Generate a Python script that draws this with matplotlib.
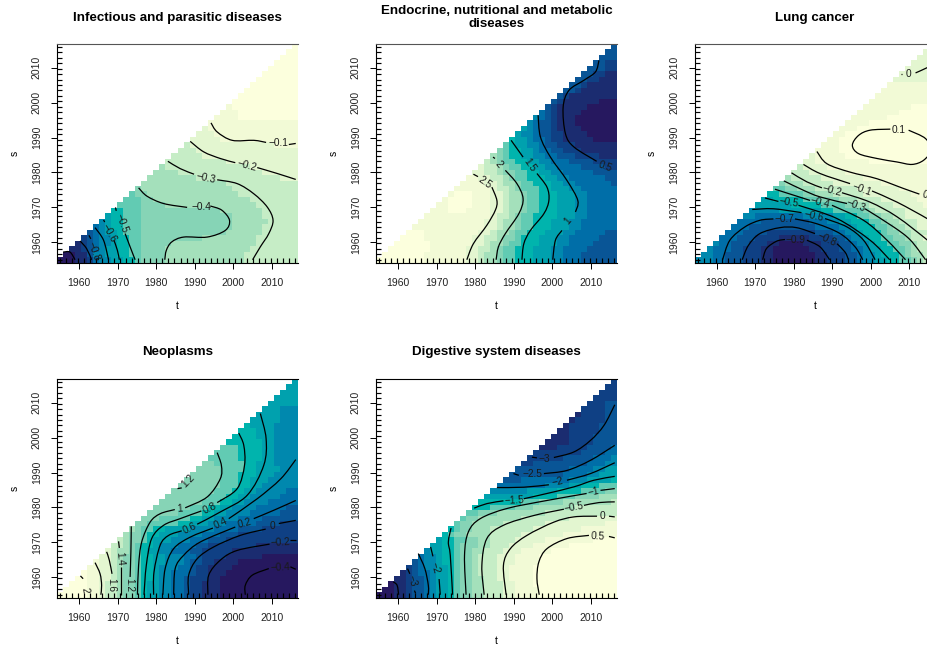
"""Five triangular (s <= t) smooth-effect maps with labelled level curves."""
import matplotlib
matplotlib.use("Agg")
import matplotlib.pyplot as plt
import numpy as np
from matplotlib.colors import ListedColormap
from matplotlib.patches import PathPatch
from matplotlib.path import Path

plt.rcParams["font.family"] = ["Liberation Sans", "DejaVu Sans"]

W, H = 927, 649
T_GRID = np.linspace(1955, 2016, 40)
YEARS = [1960, 1970, 1980, 1990, 2000, 2010]
COLORS = ["#26185f", "#1b2c70", "#0f4084", "#095596", "#006ea8", "#0088ae", "#00a1ae",
          "#00b4ad", "#62cbb3", "#86d4b6", "#a4e0bb", "#c6edc6", "#e3f6d0", "#f2fad6",
          "#fcffdd"]

TITLES = ["Infectious and parasitic diseases",
          "Endocrine, nutritional and metabolic\ndiseases",
          "Lung cancer", "Neoplasms", "Digestive system diseases"]

# colour band rows, bottom to top, as band:first column
INF_ROWS = [
    "0:0 1:3 2:5 4:6 5:7 6:9 7:11 8:13 9:14 a:18 b:31",
    "0:1 1:3 3:5 5:6 6:8 7:10 8:12 9:14 a:18 b:31",
    "1:2 2:4 3:5 4:6 5:7 6:8 7:10 8:12 9:14 a:18 b:32",
    "1:3 2:4 3:5 4:6 5:7 6:9 7:10 8:12 9:14 a:19 b:33",
    "2:4 3:5 4:6 5:7 6:9 7:10 8:12 9:14 a:24 b:33",
    "3:5 4:6 5:7 6:8 7:10 8:11 9:14 a:28 b:34",
    "4:6 5:7 6:8 7:9 8:11 9:14 a:29 b:34",
    "5:7 6:8 7:9 8:11 9:14 a:29 b:35",
    "6:8 7:9 8:11 9:14 a:29 b:34",
    "7:9 8:11 9:14 a:27 b:34",
    "8:10 9:14 a:18 b:33",
    "8:11 9:14 a:16 b:32",
    "8:12 9:13 a:15 b:30",
    "9:13 a:14 b:29",
    "a:14 b:28",
    "a:15 b:23 c:37",
    "a:16 b:20 c:34",
    "a:17 b:18 c:32",
    "b:18 c:28",
    "b:19 c:24",
    "b:20 c:23",
    "b:21 c:22 d:36",
    "c:22 d:27",
    "c:23 d:26",
    "c:24 d:25",
    "d:25",
    "d:26 e:30",
    "d:27 e:30",
    "d:28 e:29",
    "e:29", "e:30", "e:31", "e:32", "e:33", "e:34", "e:35", "e:36", "e:37", "e:38", "e:39",
]
END_ROWS = [
    "e:0 d:8 c:15 b:17 a:18 9:20 8:21 7:23 6:26 5:29 4:31 3:34",
    "e:1 d:8 c:15 b:17 a:18 9:20 8:21 7:23 6:26 5:29 4:31 3:34",
    "e:2 d:9 c:15 b:17 a:19 9:20 8:21 7:23 6:26 5:29 4:31 3:35",
    "e:3 d:9 c:16 b:18 a:19 9:21 8:22 7:24 6:27 5:30 4:32 3:36",
    "e:4 d:8 c:16 b:18 a:20 9:21 8:23 7:24 6:27 5:30 4:32 3:37",
    "e:5 d:8 c:17 b:19 a:20 9:22 8:23 7:25 6:28 5:31 4:33 3:38",
    "d:6 c:18 b:20 a:21 9:23 8:24 7:26 6:29 5:32 4:34",
    "d:7 c:18 b:20 a:21 9:23 8:24 7:26 6:29 5:32 4:34",
    "d:8 c:19 b:20 a:22 9:23 8:24 7:26 6:30 5:33 4:35",
    "d:9 e:12 d:15 c:19 b:21 a:22 9:24 8:25 7:27 6:30 5:33 4:35",
    "d:10 e:12 d:16 c:19 b:21 a:22 9:24 8:25 7:27 6:30 5:33 4:35",
    "d:11 e:12 d:16 c:19 b:21 a:22 9:24 8:25 7:27 6:30 5:33 4:35",
    "d:12 e:13 d:16 c:19 b:21 a:22 9:24 8:25 7:27 6:30 5:33 4:35",
    "d:13 c:19 b:20 a:22 9:23 8:24 7:27 6:29 5:32 4:34",
    "d:14 c:18 b:20 a:21 9:23 8:24 7:26 6:29 5:31 4:33 3:39",
    "d:15 c:17 b:19 a:21 9:22 8:23 7:25 6:28 5:30 4:32 3:38",
    "c:16 b:18 a:20 9:21 8:23 7:25 6:27 5:29 4:31 3:36",
    "c:17 b:18 a:20 9:21 8:22 7:24 6:26 5:28 4:30 3:34 2:38",
    "b:18 a:19 9:20 8:21 7:23 6:25 5:27 4:29 3:32 2:36",
    "a:19 9:20 8:21 7:22 6:24 5:26 4:28 3:30 2:33 1:37",
    "9:20 8:21 7:22 6:24 5:26 4:27 3:29 2:31 1:34",
    "8:21 7:22 6:23 5:25 4:27 3:28 2:30 1:33",
    "7:22 6:23 5:25 4:26 3:28 2:29 1:31 0:36",
    "6:23 5:24 4:26 3:27 2:29 1:31 0:35",
    "6:24 5:25 4:26 3:27 2:29 1:30 0:34",
    "5:25 4:26 3:27 2:29 1:30 0:33",
    "5:26 4:27 3:28 2:29 1:30 0:33",
    "4:27 3:28 2:29 1:30 0:34",
    "3:28 2:29 1:30 0:35",
    "3:29 2:30 1:31 0:37",
    "3:30 2:31 1:32",
    "3:31 2:33 1:34",
    "3:32 2:34 1:35",
    "3:33 2:35 1:37",
    "3:34 2:36 1:38",
    "3:35 2:38",
    "3:36 2:38",
    "3:37", "3:38", "3:39",
]
LUNG_ROWS = [
    "5:0 4:3 3:5 2:8 1:11 0:13 1:20 2:22 3:25 4:27 5:28 6:30 7:32 8:34 9:36 a:37 b:38",
    "5:1 4:3 3:5 2:8 1:11 0:13 1:20 2:22 3:25 4:27 5:28 6:30 7:31 8:34 9:35 a:36 b:38",
    "5:2 4:3 3:6 2:8 1:11 0:13 1:19 2:21 3:24 4:26 5:28 6:29 7:31 8:33 9:35 a:36 b:37",
    "5:3 4:4 3:6 2:9 1:12 0:14 1:18 2:21 3:24 4:26 5:27 6:29 7:30 8:32 9:34 a:36 b:37",
    "4:4 3:7 2:10 1:14 2:19 3:23 4:25 5:26 6:28 7:29 8:31 9:33 a:35 b:36 c:38",
    "4:5 3:8 2:12 3:20 4:23 5:25 6:27 7:28 8:31 9:32 a:34 b:36",
    "4:6 3:9 4:20 5:24 6:26 7:27 8:30 9:32 a:33 b:35 c:37",
    "4:7 3:11 4:19 5:22 6:24 7:26 8:29 9:31 a:32 b:34 c:37",
    "5:8 4:10 5:18 6:23 7:25 8:27 9:29 a:31 b:33 c:35",
    "5:9 6:14 7:21 8:23 9:28 a:29 b:30 c:35",
    "6:10 7:16 8:21 9:25 a:27 b:29 c:33 d:38",
    "6:11 7:13 8:18 9:21 a:24 b:27 c:31 d:37",
    "7:12 8:14 9:18 a:20 b:23 c:28 d:36",
    "8:13 9:15 a:17 b:20 c:27 d:34",
    "9:14 a:15 b:18 c:23 d:31",
    "a:15 b:16 c:21 d:28",
    "b:16 c:19 d:25",
    "b:17 c:18 d:22",
    "c:18 d:20 e:29",
    "c:19 d:20 e:25",
    "d:20 e:24",
    "d:21 e:24",
    "d:22 e:24",
    "d:23 e:25",
    "d:24 e:27",
    "d:25 e:29",
    "d:26 e:32",
    "d:27 e:34",
    "d:28 e:36",
    "d:29", "d:30", "d:31", "d:32",
    "c:33", "c:34", "c:35", "c:36", "c:37", "c:38", "c:39",
]
NEO_ROWS = [
    "e:0 d:5 c:7 b:8 a:10 9:11 8:13 7:14 6:15 5:17 4:19 3:21 2:22 1:24 0:27",
    "e:1 d:5 c:7 b:8 a:10 9:11 8:13 7:14 6:15 5:17 4:19 3:21 2:22 1:24 0:27",
    "e:2 d:5 c:7 b:8 a:10 9:11 8:13 7:14 6:15 5:17 4:19 3:21 2:22 1:24 0:27",
    "e:3 d:5 c:7 b:9 a:10 9:11 8:13 7:14 6:16 5:17 4:19 3:21 2:22 1:25 0:27",
    "e:4 d:5 c:7 b:9 a:10 9:11 8:13 7:14 6:16 5:17 4:19 3:22 2:23 1:25 0:28",
    "d:5 c:7 b:9 a:10 9:11 8:13 7:14 6:16 5:17 4:20 3:22 2:23 1:25 0:29",
    "d:6 c:7 b:9 a:10 9:11 8:13 7:14 6:16 5:18 4:21 3:22 2:24 1:26 0:30",
    "c:7 b:9 a:10 9:11 8:13 7:14 6:16 5:18 4:21 3:23 2:24 1:28 0:34",
    "c:8 b:9 a:10 9:12 8:13 7:14 6:15 5:17 4:19 3:22 2:24 1:29",
    "b:9 a:11 9:12 8:13 7:14 6:16 5:17 4:20 3:23 2:25 1:33",
    "b:10 a:11 9:12 8:14 7:15 6:16 5:19 4:22 3:25 2:28",
    "a:11 9:12 8:14 7:15 6:17 5:20 4:24 3:27 2:30",
    "a:12 9:13 8:14 7:16 6:18 5:22 4:26 3:30 2:34",
    "9:13 8:15 7:20 6:22 5:25 4:28 3:33 2:37",
    "9:14 8:17 7:22 6:24 5:26 4:30 3:34",
    "9:15 8:20 7:24 6:26 5:28 4:32 3:37",
    "9:16 8:22 7:25 6:27 5:29 4:33 3:38",
    "9:17 8:24 7:27 6:29 5:31 4:35",
    "9:18 8:25 7:28 6:30 5:32 4:37",
    "9:19 8:26 7:29 6:31 5:33 4:38",
    "9:20 8:27 7:30 6:32 5:34",
    "9:21 8:27 7:30 6:32 5:35",
    "9:22 8:27 7:30 6:33 5:36",
    "9:23 8:27 7:31 6:33 5:37",
    "9:24 8:26 7:31 6:33 5:36",
    "8:25 7:30 6:34 5:36",
    "8:26 7:30 6:34 5:36",
    "8:27 7:30 6:34 5:36",
    "7:28 6:34 5:36",
    "7:29 6:33 5:36",
    "7:30 6:33 5:36",
    "7:31 6:32 5:36",
    "6:32 5:37",
    "6:33 5:37",
    "6:34 5:37",
    "6:35", "6:36", "6:37", "6:38", "6:39",
]
DIG_ROWS = [
    "0:0 1:3 2:5 3:6 4:8 5:9 6:10 7:12 8:13 9:14 a:16 b:18 c:21 d:23 e:27",
    "0:1 1:3 2:5 3:6 4:8 5:9 6:10 7:12 8:13 9:14 a:16 b:18 c:21 d:23 e:27",
    "0:2 1:3 2:5 3:6 4:8 5:9 6:10 7:12 8:13 9:14 a:16 b:18 c:21 d:23 e:26",
    "1:3 2:5 3:6 4:8 5:9 6:10 7:12 8:13 9:14 a:16 b:18 c:20 d:22 e:26",
    "1:4 2:5 3:6 4:7 5:9 6:10 7:12 8:13 9:14 a:16 b:17 c:20 d:22 e:26",
    "2:5 3:6 4:7 5:8 6:10 7:12 8:13 9:14 a:16 b:17 c:20 d:22 e:26",
    "3:6 4:7 5:8 6:10 7:11 8:13 9:14 a:16 b:17 c:20 d:23 e:27",
    "4:7 5:8 6:10 7:11 8:13 9:14 a:16 b:17 c:20 d:23 e:27",
    "5:8 6:9 7:11 8:13 9:14 a:16 b:18 c:21 d:24 e:29",
    "6:9 7:11 8:13 9:14 a:17 b:19 c:22 d:26 e:32",
    "6:10 7:11 8:13 9:15 a:17 b:19 c:23 d:28 e:36",
    "7:11 8:12 9:13 a:15 b:19 c:24 d:31",
    "7:12 8:13 9:14 a:16 b:19 c:26 d:34",
    "8:13 9:14 a:16 b:21 c:28 d:38",
    "8:14 9:15 a:17 b:24 c:32",
    "8:15 9:17 a:20 b:28",
    "7:16 8:19 9:23 a:26 b:33",
    "7:17 8:24 9:27 a:31 b:39",
    "6:18 7:26 8:30 9:33 a:37",
    "5:19 6:25 7:30 8:34 9:38",
    "4:20 5:28 6:32 7:34 8:37",
    "3:21 4:24 5:32 6:35 7:39",
    "3:22 4:31 5:35 6:37",
    "3:23 4:32 5:36 6:38",
    "2:24 3:26 4:35 5:38",
    "2:25 3:31 4:36 5:39",
    "2:26 3:34 4:38",
    "1:27 2:30 3:35 4:39",
    "1:28 2:32 3:36",
    "1:29 2:32 3:36",
    "1:30 2:32 3:37",
    "1:31 2:32 3:37",
    "1:32 2:33 3:38",
    "1:33 2:34 3:38",
    "2:34 3:38",
    "2:35 3:38",
    "2:36", "2:37", "2:38", "2:39",
]

# level curves read as (t, s) runs, broken where a label sits
INF_LINES = [
    [(1994.2, 1994.2), (1995.8, 1991.6), (1999.7, 1989.2), (2005.3, 1989.2), (2008.5, 1988.6)],
    [(2014.4, 1988), (2016.2, 1988.3)],
    [(1988.8, 1988.9), (1992.3, 1985.9), (1996.6, 1984), (2000.5, 1982.8)],
    [(2006.2, 1981.4), (2011.4, 1979.7), (2016.2, 1978)],
    [(1983, 1983.2), (1986.2, 1981.1), (1989.8, 1979.5)],
    [(1995.8, 1977.9), (2001, 1976.8), (2005.3, 1973.9), (2008.8, 1970.1), (2010.3, 1966.3),
     (2009.2, 1962.5), (2007, 1958.7), (2005, 1955)],
    [(1975.4, 1975.6), (1977.6, 1973.2), (1981.9, 1971.1), (1988, 1970)],
    [(1994, 1970.4), (1997, 1969.2), (1999, 1966.3), (1997.9, 1963.4), (1993.2, 1961.5),
     (1987.1, 1961.5), (1984, 1960.1), (1982.6, 1957.7), (1982.2, 1955)],
    [(1969.4, 1970), (1969.6, 1969)],
    [(1971.9, 1962.5), (1973.2, 1958.7), (1974.5, 1955)],
    [(1966.3, 1966.4), (1966.6, 1965.8)],
    [(1969, 1960.6), (1969.9, 1957.7), (1970.4, 1955)],
    [(1964.1, 1964.2), (1966.3, 1960.6), (1967.6, 1955)],
    [(1962.5, 1962), (1963, 1961)],
    [(1964.8, 1955.5), (1965, 1955)],
    [(1960.2, 1960.4), (1961.9, 1958.2), (1963.2, 1955)],
    [(1955.8, 1957.2), (1957.6, 1957.2), (1958.9, 1955)],
]
INF_LABELS = [
    (2011.7, 1988.3, 0, "\u22120.1"), (2003.6, 1981.9, -15, "\u22120.2"),
    (1992.9, 1978.4, -12, "\u22120.3"), (1991.6, 1970, 0, "\u22120.4"),
    (1970.9, 1965.3, -70, "\u22120.5"), (1967.7, 1962.5, -60, "\u22120.6"),
    (1963.8, 1957.5, -70, "\u22120.8"),
]
END_LINES = [
    [(1979.5, 1979.5), (1980.7, 1978.8)],
    [(1984.3, 1975.8), (1985.6, 1972), (1985.2, 1969.2), (1983, 1964.9), (1979.5, 1959.6), (1977.8, 1955)],
    [(1984.6, 1984.4), (1985.1, 1984)],
    [(1987.8, 1980.6), (1990.8, 1976.8), (1992.4, 1972.5), (1991.3, 1968.2), (1987.8, 1962.5),
     (1986, 1958.7), (1985.4, 1955)],
    [(1989.3, 1989.2), (1992.4, 1984.4)],
    [(1996, 1979.7), (1998.6, 1975.8), (1999.1, 1972), (1997.8, 1968.2), (1994.3, 1963.4),
     (1992.6, 1959.6), (1992.1, 1955)],
    [(1996.3, 1996.4), (1996.9, 1990.2), (1999.5, 1984.4), (2003.8, 1977.7), (2006.6, 1972), (2006, 1968.7)],
    [(2002.5, 1963.4), (2000.8, 1960.6), (2000.1, 1955)],
    [(2012.1, 2012.1), (2011.2, 2008.8), (2008.2, 2006.4), (2004.3, 2003.5), (2002.8, 1998.7),
     (2003.4, 1991.1), (2005.6, 1987.3), (2011.5, 1983.2)],
]
END_LABELS = [
    (1982.6, 1977.1, -35, "2.5"), (1986, 1982.5, -50, "2"), (1994.1, 1982, -55, "1.5"),
    (2004.1, 1966.1, 50, "1"), (2013.8, 1981.6, -20, "0.5"),
]
LUNG_LINES = [
    [(2005.05, 1992.4), (1999.8, 1992.1), (1996.8, 1990.6), (1995.2, 1987.8), (1996.8, 1985.4),
     (2001.6, 1984), (2006.8, 1983), (2010.7, 1982.3), (2013.7, 1983.5), (2015.5, 1986.3),
     (2014.2, 1989.7), (2009.8, 1992.1)],
    [(2007.7, 2008.3), (2008.2, 2008.3)],
    [(2011.6, 2008.5), (2014.6, 2010), (2016.3, 2011.1)],
    [(1986, 1986), (1988.6, 1982.5), (1994.6, 1980.1), (2001.6, 1978.2), (2008.5, 1975.4), (2012.6, 1973.8)],
    [(1982.5, 1982.3), (1986.8, 1979.7), (1994.6, 1976.8)],
    [(2000.3, 1974.7), (2006.8, 1971.5), (2014.6, 1966.8), (2016.3, 1965.3)],
    [(1979.4, 1979.9), (1983.4, 1977.3), (1987.3, 1975.6)],
    [(1992.5, 1974.2), (1999.8, 1971.5), (2006.8, 1967.3), (2014.7, 1960.6), (2016.3, 1958.7)],
    [(1977.4, 1977.6), (1982.5, 1974.9), (1986.8, 1973), (1993.8, 1971.1)],
    [(1998.5, 1969.6), (2005.9, 1964.4), (2010.3, 1960.6), (2014.2, 1955)],
    [(1975.1, 1975.2), (1984.2, 1972)],
    [(1989.9, 1970.6), (1998.1, 1966.3), (2004.2, 1960.6), (2009, 1955)],
    [(1972.5, 1972.7), (1976, 1971.7)],
    [(1981.2, 1970.6), (1991.2, 1966.8), (1999.8, 1960.6), (2004.9, 1955)],
    [(1969.2, 1969.4), (1974.7, 1969.6), (1982, 1968.5)],
    [(1988.1, 1966.8), (1993.8, 1964.4), (1998.1, 1960.6), (2001.1, 1955)],
    [(1961.5, 1955), (1963.4, 1960.6), (1967.3, 1964.4), (1971.2, 1966.3), (1974.7, 1966.7)],
    [(1980.3, 1966.7), (1986, 1965.3), (1992, 1962.5), (1995.9, 1958.7), (1997.9, 1955)],
    [(1966.6, 1955), (1968.2, 1959.1), (1971.2, 1962.5), (1976.4, 1964.2), (1980.7, 1964.2), (1985.5, 1962.5)],
    [(1991.2, 1959.6), (1993.3, 1957.2), (1994.2, 1955)],
    [(1971.9, 1955), (1972.9, 1958.2), (1975.5, 1960.3), (1977.7, 1960.8)],
    [(1983.4, 1960.6), (1986.8, 1958.7), (1989.3, 1955)],
]
LUNG_LABELS = [
    (2007.2, 1992.3, 0, "0.1"), (2009.8, 2008.3, 0, "0"), (2014, 1973.5, -15, "0"),
    (1997.7, 1975.2, -20, "\u22120.1"), (1989.9, 1974.7, -15, "\u22120.2"),
    (1996, 1970.4, -20, "\u22120.3"), (1986.8, 1971.4, -15, "\u22120.4"),
    (1978.8, 1971.3, -8, "\u22120.5"), (1985.3, 1967.4, -12, "\u22120.6"),
    (1977.5, 1966.7, 0, "\u22120.7"), (1988.6, 1960.8, -25, "\u22120.8"),
    (1980.5, 1960.6, 0, "\u22120.9"),
]
NEO_LINES = [
    [(1960.3, 1960.4), (1961, 1959.6)],
    [(1964.1, 1964.2), (1965.4, 1961), (1965.8, 1957.7), (1965.6, 1955)],
    [(1967.1, 1967.3), (1967.8, 1964.9), (1968.5, 1961)],
    [(1970.2, 1970.3), (1970.4, 1968.4)],
    [(1970.9, 1963), (1970.9, 1955)],
    [(1973.5, 1974.6), (1973.4, 1967.3), (1973.2, 1960.1)],
    [(1985.5, 1985.4), (1986.6, 1985.6)],
    [(1975.1, 1955), (1975.4, 1963.4), (1976.2, 1970.1), (1978.4, 1975.8), (1981, 1978.2), (1984.8, 1979.4)],
    [(1987.5, 1979.9), (1993.2, 1983), (1996.6, 1988.2), (1996.9, 1992), (1995.8, 1995.7)],
    [(1976.8, 1955), (1977.4, 1963.4), (1978.8, 1971.1), (1981.9, 1974.9), (1986.2, 1976.8), (1991.7, 1979)],
    [(1995.8, 1981.4), (2001, 1985.4), (2002.9, 1992.1), (2002.7, 1997.8), (2001.4, 2001.3)],
    [(1979.3, 1955), (1979.4, 1961.5), (1981, 1969.2), (1983.2, 1972), (1986.6, 1973.3)],
    [(1990.6, 1975.2), (1996.6, 1978.7), (2003.6, 1983.5), (2007.9, 1992.1), (2008.5, 1999.7), (2007, 2006.9)],
    [(1981.7, 1955), (1982.3, 1962.5), (1984.5, 1968.2), (1988.8, 1971.5), (1994.7, 1974.1)],
    [(1998.8, 1976.8), (2006.2, 1982.5), (2012.3, 1988.2), (2016.2, 1993.7)],
    [(1984.5, 1955), (1984.9, 1962.5), (1987.1, 1966.3), (1991.4, 1970.1), (2000.5, 1974.4)],
    [(2005.3, 1976.8), (2010.5, 1979.2), (2016.2, 1982)],
    [(1988.4, 1955), (1988.4, 1960.6), (1990.6, 1965.3), (1994.9, 1968.7), (2001.8, 1972), (2008.4, 1973.8)],
    [(2011.8, 1975.4), (2016.2, 1976.3)],
    [(1993.4, 1955), (1993.6, 1960.6), (1996.6, 1964.9), (2001, 1967.7), (2009.4, 1969.5)],
    [(2014.8, 1970.6), (2016.2, 1970.6)],
    [(2003.1, 1955), (2003.1, 1957.7), (2004.9, 1960.6), (2009.2, 1962.5)],
    [(2014.8, 1963), (2016.2, 1962.3)],
]
NEO_LABELS = [
    (1961.5, 1956.3, -80, "2"), (1968.4, 1957.9, -90, "1.6"), (1970.6, 1965.3, -85, "1.4"),
    (1973, 1957.9, -90, "1.2"), (1988.2, 1987.6, 45, "1.2"), (1986, 1979.7, 5, "1"),
    (1993.8, 1979.9, 25, "0.8"), (1988.6, 1973.9, 25, "0.6"), (1996.6, 1975.6, 25, "0.4"),
    (2002.9, 1975.4, 15, "0.2"), (2010.1, 1974.7, 0, "0"), (2012.1, 1970.1, 3, "\u22120.2"),
    (2012.1, 1962.7, 3, "\u22120.4"),
]
DIG_LINES = [
    [(1996.6, 1955), (1996, 1959.6), (1996.5, 1964.4), (1998.6, 1968.2), (2003.8, 1971.1), (2009.5, 1972)],
    [(2014.7, 1971.7), (2016.2, 1971.3)],
    [(1988, 1955), (1987.3, 1963.4), (1989.1, 1968.2), (1993.4, 1972), (2000.4, 1975.8), (2005.6, 1977.3), (2011.6, 1977.5)],
    [(2014.7, 1977.5), (2016.2, 1977.3)],
    [(1982.3, 1955), (1981.7, 1963.4), (1983, 1971.1), (1987.3, 1974.9), (1995.2, 1977.7), (2003, 1979.5)],
    [(2008.2, 1980.6), (2012.1, 1981.4), (2016.2, 1981.6)],
    [(1977.6, 1955), (1977.2, 1966.3), (1978.2, 1973), (1981.3, 1976.8), (1988.2, 1979.7), (1998.6, 1982), (2008.9, 1984)],
    [(2012.5, 1984.9), (2016.2, 1985.4)],
    [(1974.1, 1955), (1973.5, 1966.3), (1973, 1970.1), (1973.7, 1974.1)],
    [(1979.7, 1979.8), (1983, 1981.1), (1987.3, 1981.9)],
    [(1992.6, 1982.5), (1998.6, 1984), (2005.6, 1985.9), (2010.8, 1987.8), (2016.2, 1988.9)],
    [(1970.9, 1955), (1970.6, 1959.5)],
    [(1968.4, 1968.7), (1969, 1966)],
    [(1985.6, 1985.7), (1992.6, 1985.8), (1999.1, 1986.5)],
    [(2003.8, 1987.8), (2009.9, 1989.7), (2016.2, 1992.8)],
    [(1965.2, 1966.8), (1966.9, 1962.5), (1967.8, 1957.7), (1967.8, 1955)],
    [(1989.9, 1989.7), (1991.3, 1989.2)],
    [(1997.8, 1989.7), (2003.8, 1990.6), (2009.9, 1993.5), (2016.2, 1997.8)],
    [(1962.4, 1962.5), (1963, 1961)],
    [(1964.2, 1956.2), (1964.5, 1955.4)],
    [(1994.7, 1994.4), (1996, 1994.2)],
    [(2000.4, 1994.3), (2005.6, 1995.9), (2009.9, 1999.2), (2013.4, 2003.5), (2016.2, 2009.4)],
    [(1958.7, 1958.7), (1959.7, 1957.7), (1960.1, 1955)],
]
DIG_LABELS = [
    (2011.9, 1971.8, -3, "0.5"), (2013.1, 1977.5, 0, "0"), (2005.6, 1980.1, 10, "\u22120.5"),
    (2010.8, 1984.4, 12, "\u22121"), (1990, 1982, 3, "\u22121.5"), (2001.4, 1987.3, 12, "\u22122"),
    (1994.7, 1989.5, 0, "\u22122.5"), (1998, 1994, 0, "\u22123"), (1969.5, 1962.8, -75, "\u22122"),
    (1963.5, 1958.9, -75, "\u22123"),
]

ROWS = [INF_ROWS, END_ROWS, LUNG_ROWS, NEO_ROWS, DIG_ROWS]
LINES = [INF_LINES, END_LINES, LUNG_LINES, NEO_LINES, DIG_LINES]
LABELS = [INF_LABELS, END_LABELS, LUNG_LABELS, NEO_LABELS, DIG_LABELS]

# pixel boxes: left, top of each panel
BOXES = [(57, 44), (376, 44), (694.5, 44), (57, 379), (376, 379)]
BW, BH = 241, 218.5


def band_matrix(rows):
    z = np.full((40, 40), np.nan)
    for j, row in enumerate(rows):
        toks = [tok.split(":") for tok in row.split()]
        z[j, j:] = int(toks[0][0], 16)
        for band, start in toks:
            z[j, max(int(start), j):] = int(band, 16)
    return np.ma.masked_invalid(z)


def smooth_path(pts):
    pts = np.array(pts, float)
    if len(pts) < 3:
        return Path(pts)
    p = np.vstack([pts[0], pts, pts[-1]])
    verts, codes = [pts[0]], [Path.MOVETO]
    for k in range(1, len(p) - 2):
        verts += [p[k] + (p[k + 1] - p[k - 1]) / 6, p[k + 1] - (p[k + 2] - p[k]) / 6, p[k + 1]]
        codes += [Path.CURVE4] * 3
    return Path(verts, codes)


fig = plt.figure(figsize=(W / 100, H / 100), dpi=100)
edges = np.append(T_GRID - (T_GRID[1] - T_GRID[0]) / 2, T_GRID[-1] + (T_GRID[1] - T_GRID[0]) / 2)
cmap = ListedColormap(COLORS)

for n, (left, top) in enumerate(BOXES):
    ax = fig.add_axes([left / W, 1 - (top + BH) / H, BW / W, BH / H])
    ax.pcolormesh(edges, edges, band_matrix(ROWS[n]), cmap=cmap, vmin=-0.5, vmax=14.5,
                  antialiased=False, linewidth=0)
    for seg in LINES[n]:
        ax.add_patch(PathPatch(smooth_path(seg), fc="none", ec="black", lw=0.9, zorder=3))
    for tx, sx, rot, lab in LABELS[n]:
        ax.text(tx, sx, lab, fontsize=7.3, rotation=rot, rotation_mode="anchor",
                ha="center", va="center", color="#1a1a1a", zorder=4)
    ax.set_xlim(edges[0], edges[-1])
    ax.set_ylim(edges[0], edges[-1])
    ax.set_xticks(YEARS)
    ax.set_yticks(YEARS)
    ax.set_xticks(T_GRID, minor=True)
    ax.set_yticks(T_GRID, minor=True)
    ax.tick_params(which="major", direction="out", length=4.4, width=0.7, labelsize=7.5, pad=6.5,
                   labelcolor="#222222")
    ax.tick_params(which="minor", direction="in", length=3.4, width=0.85)
    plt.setp(ax.get_yticklabels(), rotation=90, va="center")
    ax.spines["right"].set_visible(False)
    for side in ("left", "bottom"):
        ax.spines[side].set_linewidth(0.8)
    ax.spines["top"].set_linewidth(0.8)
    ax.spines["top"].set_color("#555555" if top < 100 else "black")
    cx = left + BW / 2
    fig.text(cx / W, 1 - (top - 26.5) / H, TITLES[n], fontsize=9.6, fontweight="bold",
             ha="center", va="center", linespacing=1.1)
    fig.text(cx / W, 1 - (top + 262) / H, "t", fontsize=7.5, ha="center", va="center")
    fig.text((left - 42.5) / W, 1 - (top + BH / 2) / H, "s", fontsize=7.5, rotation=90,
             ha="center", va="center")

fig.savefig("out.png", dpi=100)
